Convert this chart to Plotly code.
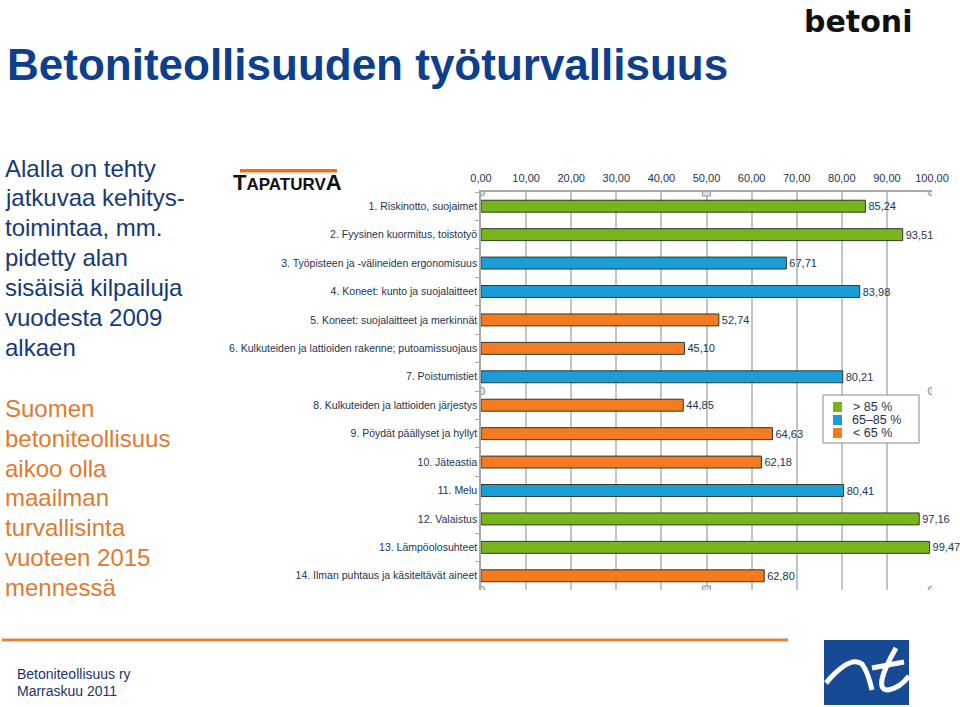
import plotly.graph_objects as go

W, H = 960, 707

categories = [
    "1. Riskinotto, suojaimet",
    "2. Fyysinen kuormitus, toistotyö",
    "3. Työpisteen ja -välineiden ergonomisuus",
    "4. Koneet: kunto ja suojalaitteet",
    "5. Koneet: suojalaitteet ja merkinnät",
    "6. Kulkuteiden ja lattioiden rakenne; putoamissuojaus",
    "7. Poistumistiet",
    "8. Kulkuteiden ja lattioiden järjestys",
    "9. Pöydät päällyset ja hyllyt",
    "10. Jäteastia",
    "11. Melu",
    "12. Valaistus",
    "13. Lämpöolosuhteet",
    "14. Ilman puhtaus ja käsiteltävät aineet",
]
values = [85.24, 93.51, 67.71, 83.98, 52.74, 45.10, 80.21,
          44.85, 64.63, 62.18, 80.41, 97.16, 99.47, 62.80]
groups = ["> 85 %", "65–85 %", "< 65 %"]
group_colors = ["#78b41c", "#1a9dd9", "#f47b20"]
x_ticks = [0, 10, 20, 30, 40, 50, 60, 70, 80, 90, 100]

title = "Betoniteollisuuden työturvallisuus"
text_block1 = ["Alalla on tehty", "jatkuvaa kehitys-", "toimintaa, mm.", "pidetty alan",
               "sisäisiä kilpailuja", "vuodesta 2009", "alkaen"]
text_block2 = ["Suomen", "betoniteollisuus", "aikoo olla", "maailman",
               "turvallisinta", "vuoteen 2015", "mennessä"]
footer = ["Betoniteollisuus ry", "Marraskuu 2011"]


def group_of(v):
    if v > 85:
        return 0
    if v >= 65:
        return 1
    return 2


def px(x):
    return x / W


def py(y):
    return 1 - y / H


fig = go.Figure()
for gi, g in enumerate(groups):
    ys = [c for c, v in zip(categories, values) if group_of(v) == gi]
    xs = [v for v in values if group_of(v) == gi]
    fig.add_trace(go.Bar(
        x=xs, y=ys, orientation="h", name=g,
        marker=dict(color=group_colors[gi], line=dict(color="#2f3a2a", width=1)),
        width=0.42,
        texttemplate="%{x:.2f}", textposition="outside",
        textfont=dict(size=11, color="#22344f", family="Liberation Sans"),
        cliponaxis=False, constraintext="none", showlegend=False,
    ))

fig.update_layout(
    width=W, height=H,
    margin=dict(l=0, r=0, t=0, b=0),
    paper_bgcolor="white", plot_bgcolor="white",
    separators=", ",
    barmode="overlay",
    font=dict(family="Liberation Sans", color="#22344f"),
    xaxis=dict(
        domain=[px(481), px(932)], range=[0, 100], side="top",
        tickmode="array", tickvals=x_ticks, tickformat=".2f",
        showgrid=True, gridcolor="#c4c4c4", gridwidth=1.5,
        showline=True, linecolor="#a8a8a8", linewidth=1.5,
        zeroline=False, ticks="", tickfont=dict(size=11, color="#22344f"),
        ticklabelstandoff=4,
        automargin=False, fixedrange=True,
    ),
    yaxis=dict(
        domain=[py(590), py(192)],
        type="category", categoryorder="array", categoryarray=categories,
        range=[13.5, -0.5],
        showline=True, linecolor="#a8a8a8", linewidth=1.5,
        ticks="outside", tickson="boundaries", ticklen=4, tickcolor="#a8a8a8",
        tickfont=dict(size=10.5, color="#22344f"),
        showgrid=False, automargin=False, fixedrange=True,
    ),
)

shapes = []
# selection handles
for xv, yv, kind in [(0, -0.5, "circle"), (50, -0.5, "rect"), (100, -0.5, "circle"),
                     (0, 6.5, "circle"), (100, 6.5, "circle"),
                     (0, 13.5, "circle"), (50, 13.5, "rect"), (100, 13.5, "circle")]:
    shapes.append(dict(type=kind, xref="x", yref="y", xsizemode="pixel", ysizemode="pixel",
                       xanchor=xv, yanchor=yv, x0=-4, x1=4, y0=-4, y1=4,
                       fillcolor="#d8e0ec", line=dict(color="#8c9ab4", width=1)))

# legend box
shapes.append(dict(type="rect", xref="paper", yref="paper",
                   x0=px(823), x1=px(919), y0=py(443), y1=py(395),
                   line=dict(color="#8a8a8a", width=1), fillcolor="white"))
annotations = []
for i, (g, c) in enumerate(zip(groups, group_colors)):
    yc = 407 + i * 13
    shapes.append(dict(type="rect", xref="paper", yref="paper",
                       x0=px(833), x1=px(842), y0=py(yc + 5), y1=py(yc - 5),
                       fillcolor=c, line=dict(width=0)))
    annotations.append(dict(text=g, x=px(850 if i == 1 else 851), y=py(yc), xref="paper", yref="paper",
                            xanchor="left", yanchor="middle", showarrow=False, height=12,
                            font=dict(size=12.5, color="#22344f", family="Liberation Sans")))

# orange separator line
shapes.append(dict(type="line", xref="paper", yref="paper", x0=px(2), x1=px(788),
                   y0=py(640), y1=py(640), line=dict(color="#e8823a", width=3)))
# Tapaturva bar
shapes.append(dict(type="rect", xref="paper", yref="paper", x0=px(240), x1=px(337),
                   y0=py(172.5), y1=py(169), fillcolor="#e8711c", line=dict(width=0)))
# bottom-right logo
shapes.append(dict(type="rect", xref="paper", yref="paper", x0=px(824), x1=px(909),
                   y0=py(705), y1=py(640), fillcolor="#174a94", line=dict(width=0)))

swoosh1 = "M {},{} Q {},{} {},{} Q {},{} {},{}".format(
    px(826), py(683), px(850), py(655), px(862), py(664), px(868), py(672), px(872), py(690))
swoosh2 = "M {},{} Q {},{} {},{} Q {},{} {},{}".format(
    px(896), py(648), px(872), py(690), px(888), py(690), px(900), py(688), px(909), py(676))
swoosh3 = "M {},{} L {},{}".format(px(872), py(668), px(904), py(662))
for p in (swoosh1, swoosh2, swoosh3):
    shapes.append(dict(type="path", xref="paper", yref="paper", path=p,
                       line=dict(color="white", width=5)))

# title
annotations.append(dict(text="<b>" + title + "</b>", x=px(5), y=py(65), xref="paper", yref="paper",
                        xanchor="left", yanchor="middle", showarrow=False,
                        font=dict(size=44, color="#0d3f8c", family="Liberation Sans")))
# betoni logo
annotations.append(dict(text="<b>betoni</b>", x=px(858), y=py(21), xref="paper", yref="paper",
                        xanchor="center", yanchor="middle", showarrow=False,
                        font=dict(size=30, color="#111111", family="DejaVu Sans")))
# Tapaturva logo text
annotations.append(dict(text="<b>T<span style='font-size:17px'>APATURV</span>A</b>",
                        x=px(231), y=py(182), xref="paper", yref="paper",
                        xanchor="left", yanchor="middle", showarrow=False,
                        font=dict(size=22, color="#111111", family="Liberation Sans")))
# left text blocks
for i, t in enumerate(text_block1):
    annotations.append(dict(text=t, x=px(3), y=py(168 + i * 29.9), xref="paper", yref="paper",
                            xanchor="left", yanchor="middle", showarrow=False,
                            font=dict(size=24, color="#163a78", family="Liberation Sans")))
for i, t in enumerate(text_block2):
    annotations.append(dict(text=t, x=px(3), y=py(408.5 + i * 29.8), xref="paper", yref="paper",
                            xanchor="left", yanchor="middle", showarrow=False,
                            font=dict(size=24, color="#e07a30", family="Liberation Sans")))
for i, t in enumerate(footer):
    annotations.append(dict(text=t, x=px(15), y=py(674 + i * 17), xref="paper", yref="paper",
                            xanchor="left", yanchor="middle", showarrow=False,
                            font=dict(size=14, color="#1c3466", family="Liberation Sans")))

fig.update_layout(shapes=shapes, annotations=annotations)
fig.write_html("out.html", config={"displayModeBar": False},
               post_script="document.body.style.margin='0';document.body.style.overflow='hidden';")
